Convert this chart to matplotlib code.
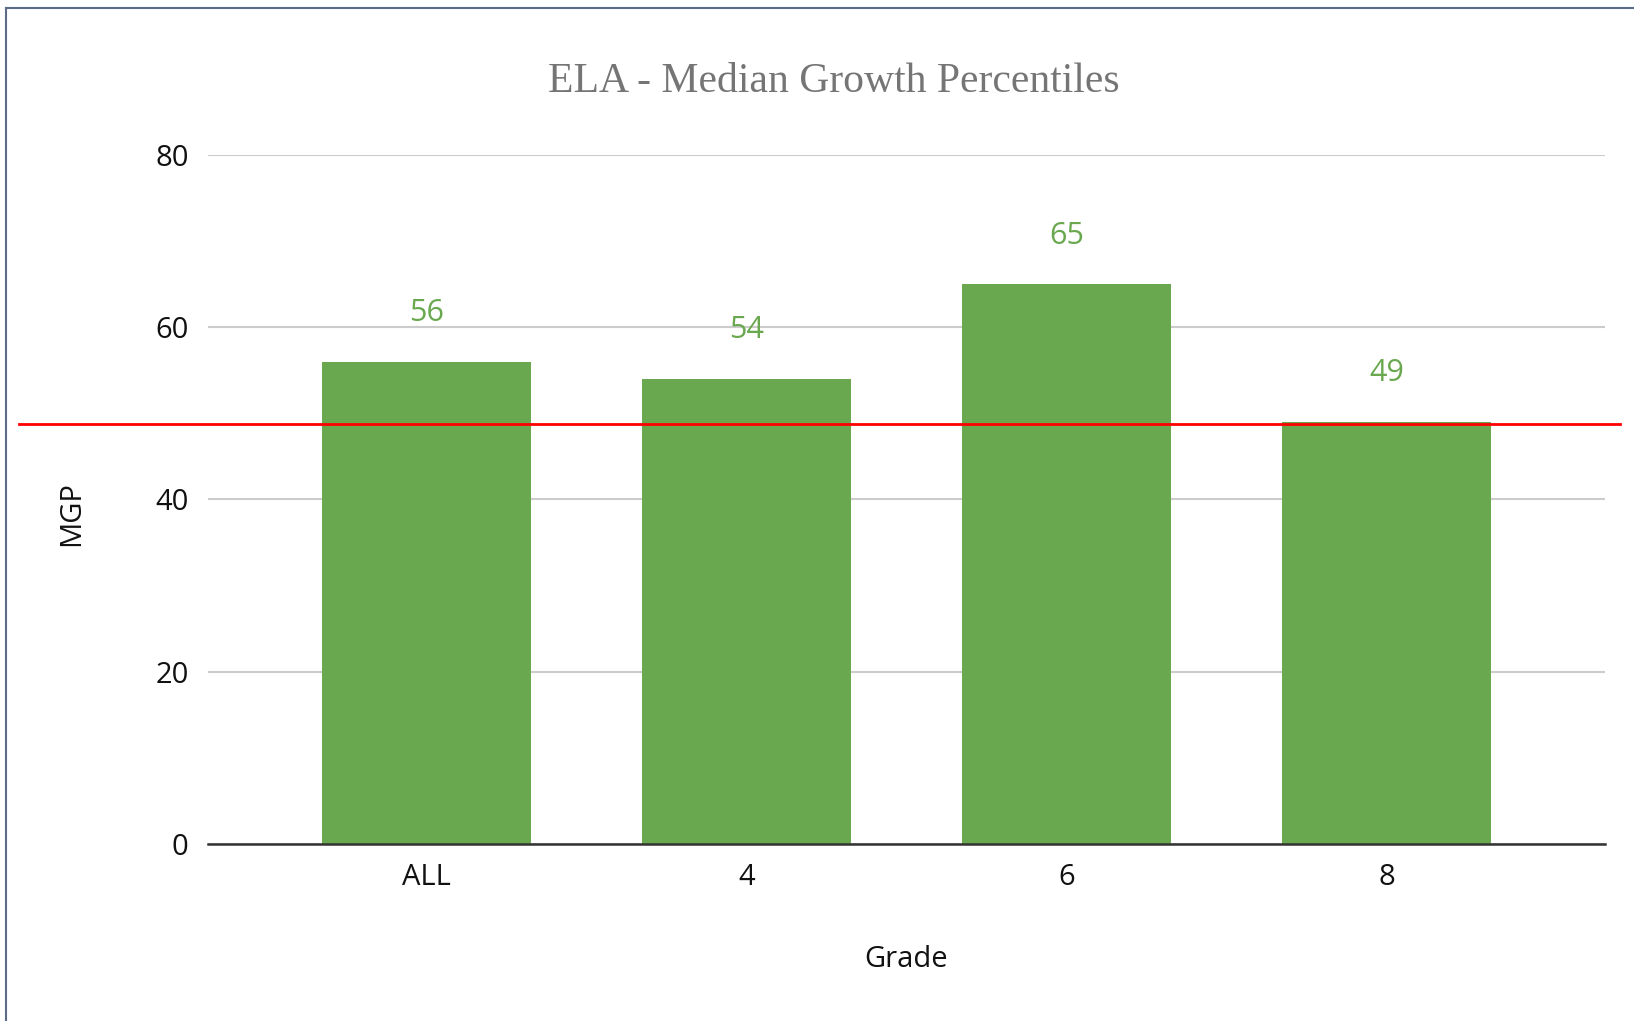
import matplotlib.pyplot as plt
from matplotlib.lines import Line2D

grades = ['ALL', '4', '6', '8']
mgp = [56, 54, 65, 49]
y_ticks = [0, 20, 40, 60, 80]
reference_mgp = 48.8   # red reference line

BAR_GREEN = '#6aa84f'
LABEL_FONT = ['Open Sans', 'DejaVu Sans']


def main():
    fig = plt.figure(figsize=(16.34, 10.21), dpi=100)
    ax = fig.add_axes([0.1273, 0.1734, 0.8549, 0.6748])

    xs = range(len(grades))
    ax.bar(xs, mgp, width=0.655, color=BAR_GREEN, zorder=2)
    for x, v in zip(xs, mgp):
        ax.annotate(str(v), (x, v), xytext=(0, 35), textcoords='offset points',
                    ha='center', va='center', color=BAR_GREEN, fontsize=22,
                    family=LABEL_FONT)

    ax.set_xlim(-0.683, 3.683)
    ax.set_ylim(0, 80)
    ax.set_yticks(y_ticks)
    ax.set_xticks(list(xs))
    ax.set_xticklabels(grades)
    ax.grid(axis='y', color='#cccccc', linewidth=1.5, zorder=0)
    ax.set_axisbelow(True)
    for side in ('top', 'right', 'left'):
        ax.spines[side].set_visible(False)
    ax.spines['bottom'].set_color('#333333')
    ax.spines['bottom'].set_linewidth(1.8)
    ax.spines['bottom'].set_zorder(3)
    ax.tick_params(axis='both', length=0, labelsize=21, colors='#111111')
    ax.tick_params(axis='y', pad=14)
    ax.tick_params(axis='x', pad=14)
    for lbl in ax.get_xticklabels() + ax.get_yticklabels():
        lbl.set_family(LABEL_FONT)

    ax.set_ylabel('MGP', fontsize=21, family=LABEL_FONT, color='#111111')
    ax.yaxis.set_label_coords(-0.087, 0.48)
    ax.set_xlabel('Grade', fontsize=21, family=LABEL_FONT, color='#111111',
                  labelpad=38)

    # red reference line running past the plot area
    ax.plot([-0.135, 1.011], [reference_mgp, reference_mgp], color='#ff0000',
            linewidth=2, transform=ax.get_yaxis_transform(), clip_on=False,
            zorder=4)

    fig.text(834 / 1634, 1 - 82 / 1021, 'ELA - Median Growth Percentiles',
             ha='center', va='center', fontsize=30, color='#757575',
             family=['Liberation Serif', 'DejaVu Serif'])

    # frame of the screenshot (left and top edges only)
    fig.add_artist(Line2D([0.0035, 0.0035], [0, 0.992], color='#5b6b88',
                          linewidth=1.5, transform=fig.transFigure))
    fig.add_artist(Line2D([0.0035, 1], [0.992, 0.992], color='#5b6b88',
                          linewidth=1.5, transform=fig.transFigure))

    fig.savefig('out.png', dpi=100, facecolor='white')


if __name__ == '__main__':
    main()
